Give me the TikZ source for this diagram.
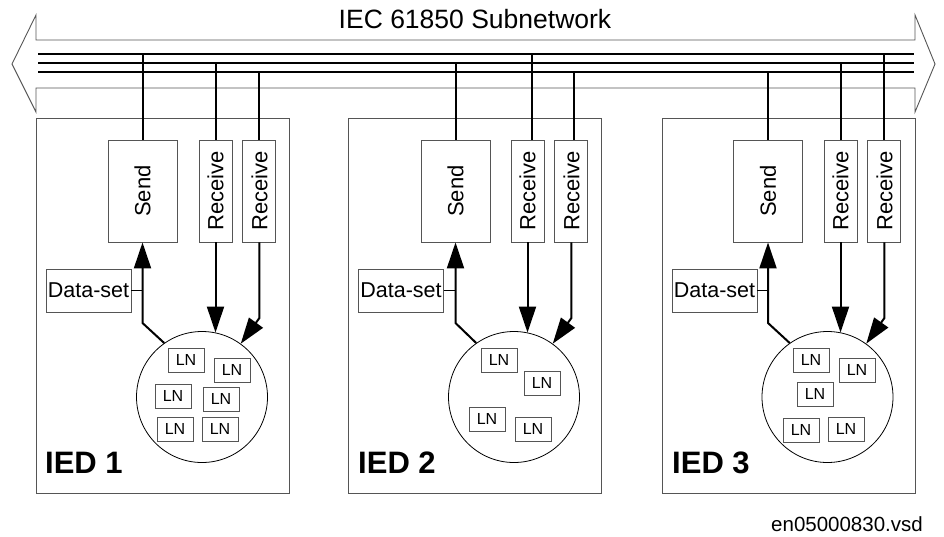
\documentclass[tikz,border=0pt]{standalone}
\usepackage{fontspec}
\setmainfont{Liberation Sans}
\usepackage{graphicx}
\usetikzlibrary{arrows.meta,positioning,calc}
\definecolor{boxGray}{RGB}{85,85,85}

\begin{document}
\begin{tikzpicture}[
    x=1pt, y=-1pt,
    every node/.style={inner sep=0pt},
    iedNode/.style={rectangle, draw=boxGray, line width=0.9pt, minimum width=253pt, minimum height=375pt},
    sendNode/.style={rectangle, draw=boxGray, line width=0.9pt, minimum width=69pt, minimum height=102pt, font=\fontsize{22}{26}\selectfont},
    recvNode/.style={rectangle, draw=boxGray, line width=0.9pt, minimum width=33pt, minimum height=102pt, font=\fontsize{22}{26}\selectfont},
    dataNode/.style={rectangle, draw=boxGray, line width=0.9pt, minimum width=85pt, minimum height=43pt, font=\fontsize{21.5}{25}\selectfont},
    lnCircle/.style={circle, draw=black, line width=0.8pt, minimum size=131pt},
    lnNode/.style={rectangle, draw=boxGray, line width=0.9pt, minimum width=36pt, minimum height=24pt, font=\fontsize{16}{19}\selectfont},
    iedLabel/.style={anchor=base west, font=\fontsize{31}{36}\selectfont\bfseries},
    busLine/.style={line width=2pt},
    tickLine/.style={line width=0.9pt},
    connArrow/.style={-{Triangle[length=26pt,width=17pt]}, line width=2pt}
]
\useasboundingbox (0,0) rectangle (944,536);

% Subnetwork
\node (title) [anchor=base, font=\fontsize{26.5}{31}\selectfont] at (475,28) {IEC 61850 Subnetwork};
\draw[draw=boxGray, line width=0.9pt] (36,40) -- (915,40) -- (915,15) -- (935,64) -- (915,112) -- (915,88)
    -- (36,88) -- (36,112) -- (12,64) -- (36,15) -- cycle;
\coordinate (busA) at (38,54);   \coordinate (busAend) at (914,54);
\coordinate (busB) at (38,62.5); \coordinate (busBend) at (914,62.5);
\coordinate (busC) at (38,71.5); \coordinate (busCend) at (914,71.5);
\draw[busLine] (busA) -- (busAend);
\draw[busLine] (busB) -- (busBend);
\draw[busLine] (busC) -- (busCend);

% IED 1
\node (ied1) [iedNode] at (162.5,305.5) {};
\node (send1) [sendNode] at (142.5,191) {\rotatebox{90}{Send}};
\node (recv1a) [recvNode] at (215.5,191) {\rotatebox{90}{Receive}};
\node (recv1b) [recvNode, right=10pt of recv1a] {\rotatebox{90}{Receive}};
\node (ds1) [dataNode] at (88.5,290.5) {Data-set};
\node (lns1) [lnCircle] at (202,397) {};
\node (ln1a) [lnNode] at (186,360) {LN};
\node (ln1b) [lnNode] at (232,370) {LN};
\node (ln1c) [lnNode] at (173,396) {LN};
\node (ln1d) [lnNode] at (221,399) {LN};
\node (ln1e) [lnNode] at (175,429) {LN};
\node (ln1f) [lnNode] at (220,429) {LN};
\node (lab1) [iedLabel] at (45,473) {IED 1};

% IED 2
\node (ied2) [iedNode] at (475,306) {};
\node (send2) [sendNode] at (455.5,191) {\rotatebox{90}{Send}};
\node (recv2a) [recvNode] at (527.5,191) {\rotatebox{90}{Receive}};
\node (recv2b) [recvNode, right=10pt of recv2a] {\rotatebox{90}{Receive}};
\node (ds2) [dataNode] at (401,290.5) {Data-set};
\node (lns2) [lnCircle] at (514,397) {};
\node (ln2a) [lnNode] at (499,360) {LN};
\node (ln2b) [lnNode] at (542,383) {LN};
\node (ln2c) [lnNode] at (487,419) {LN};
\node (ln2d) [lnNode] at (533,429) {LN};
\node (lab2) [iedLabel] at (358,473) {IED 2};

% IED 3
\node (ied3) [iedNode] at (788.5,306) {};
\node (send3) [sendNode] at (768,191) {\rotatebox{90}{Send}};
\node (recv3a) [recvNode] at (840.5,191) {\rotatebox{90}{Receive}};
\node (recv3b) [recvNode, right=10pt of recv3a] {\rotatebox{90}{Receive}};
\node (ds3) [dataNode] at (714.5,290.5) {Data-set};
\node (lns3) [lnCircle] at (827.5,397) {};
\node (ln3a) [lnNode] at (811,360) {LN};
\node (ln3b) [lnNode] at (857,370) {LN};
\node (ln3c) [lnNode] at (815,394) {LN};
\node (ln3d) [lnNode] at (801,430) {LN};
\node (ln3e) [lnNode] at (846,429) {LN};
\node (lab3) [iedLabel] at (672,473) {IED 3};

% Taps to the bus
\draw[busLine] (send1.north) -- (send1.north |- busA);
\draw[busLine] (recv1a.north) -- (recv1a.north |- busB);
\draw[busLine] (recv1b.north) -- (recv1b.north |- busC);
\draw[busLine] (send2.north) -- (send2.north |- busB);
\draw[busLine] ([xshift=4pt]recv2a.north) -- ([xshift=4pt]recv2a.north |- busA);
\draw[busLine] ([xshift=3pt]recv2b.north) -- ([xshift=3pt]recv2b.north |- busC);
\draw[busLine] (send3.north) -- (send3.north |- busC);
\draw[busLine] (recv3a.north) -- (recv3a.north |- busB);
\draw[busLine] (recv3b.north) -- (recv3b.north |- busA);

% Connectors inside the IEDs
\draw[connArrow] (lns1.125) -- (send1.south |- 0,323) -- (send1.south);
\draw[connArrow] (recv1a.south) -- (recv1a.south |- lns1.78);
\draw[connArrow] (recv1b.south) -- (recv1b.south |- 0,318) -- (lns1.54);
\draw[tickLine] (ds1.east) -- (ds1.east -| send1.south);

\draw[connArrow] (lns2.125) -- (send2.south |- 0,323) -- (send2.south);
\draw[connArrow] (recv2a.south) -- (recv2a.south |- lns2.78);
\draw[connArrow] (recv2b.south) -- (recv2b.south |- 0,318) -- (lns2.54);
\draw[tickLine] (ds2.east) -- (ds2.east -| send2.south);

\draw[connArrow] (lns3.125) -- (send3.south |- 0,323) -- (send3.south);
\draw[connArrow] (recv3a.south) -- (recv3a.south |- lns3.78);
\draw[connArrow] (recv3b.south) -- (recv3b.south |- 0,318) -- (lns3.54);
\draw[tickLine] (ds3.east) -- (ds3.east -| send3.south);

\node (fname) [anchor=base east, font=\fontsize{20.5}{24}\selectfont] at (923,531) {en05000830.vsd};

\end{tikzpicture}
\end{document}
